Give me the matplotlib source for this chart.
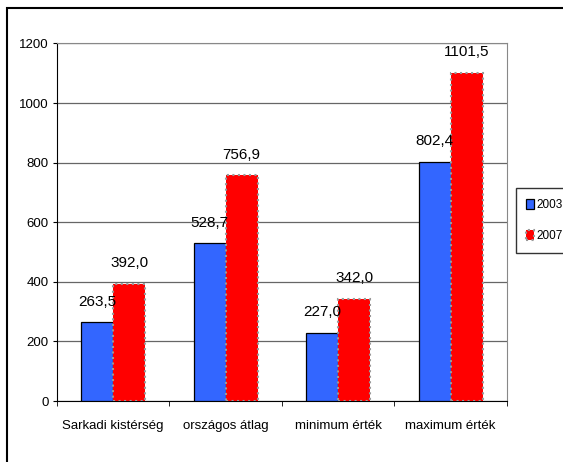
import matplotlib.pyplot as plt
import numpy as np
from matplotlib.patches import Rectangle

plt.rcParams['font.family'] = ['Liberation Sans Narrow', 'Liberation Sans', 'DejaVu Sans']

categories = ['Sarkadi kistérség', 'országos átlag', 'minimum érték', 'maximum érték']
v2003 = [263.5, 528.7, 227.0, 802.4]
v2007 = [392.0, 756.9, 342.0, 1101.5]
lab2003 = ['263,5', '528,7', '227,0', '802,4']
lab2007 = ['392,0', '756,9', '342,0', '1101,5']

fig = plt.figure(figsize=(5.63, 4.62), dpi=100)
ax = fig.add_axes([0.1012, 0.132, 0.799, 0.774])

x = np.arange(len(categories))
w = 0.285
ax.bar(x - w / 2, v2003, w, color='#3366ff', edgecolor='black', linewidth=0.9, label='2003', zorder=3)
ax.bar(x + w / 2, v2007, w, color='#ff0000', edgecolor='#999999', linewidth=1.5, linestyle=':', label='2007', zorder=3)

for xi, v, t in zip(x - w / 2, v2003, lab2003):
    ax.annotate(t, (xi, v), xytext=(0, 10), textcoords='offset points', ha='center', va='bottom', fontsize=11)
for xi, v, t in zip(x + w / 2, v2007, lab2007):
    ax.annotate(t, (xi, v), xytext=(0, 10), textcoords='offset points', ha='center', va='bottom', fontsize=11)

ax.set_ylim(0, 1200)
ax.set_xlim(-0.5, 3.5)
ax.set_yticks(range(0, 1201, 200))
ax.yaxis.grid(True, color='#666666', linewidth=0.9, zorder=0)
ax.set_xticks(x)
ax.set_xticklabels(categories, fontsize=9.5)
ax.tick_params(axis='x', length=0, pad=14)
ax.set_xticks(np.arange(-0.5, 4, 1), minor=True)
ax.tick_params(axis='x', which='minor', length=3.5, direction='out', color='black')
ax.tick_params(axis='y', labelsize=9.5, length=3, pad=3, direction='out')
for s in ['top', 'right']:
    ax.spines[s].set_color('#888888')
ax.spines['left'].set_color('black')
ax.spines['bottom'].set_color('black')

ax.legend(loc='center left', bbox_to_anchor=(1.02, 0.505), frameon=True, fancybox=False,
          edgecolor='black', fontsize=8.5, handlelength=0.6, handleheight=0.9,
          handletextpad=0.25, labelspacing=1.6, borderpad=0.9, borderaxespad=0)
leg = ax.get_legend()
leg._legend_box.align = 'left'

fig.patches.append(Rectangle((7 / 563, -0.1), 1.2, 1 - 8 / 462 + 0.1, transform=fig.transFigure,
                             fill=False, edgecolor='black', linewidth=1.5))

fig.savefig('out.png', dpi=100)
